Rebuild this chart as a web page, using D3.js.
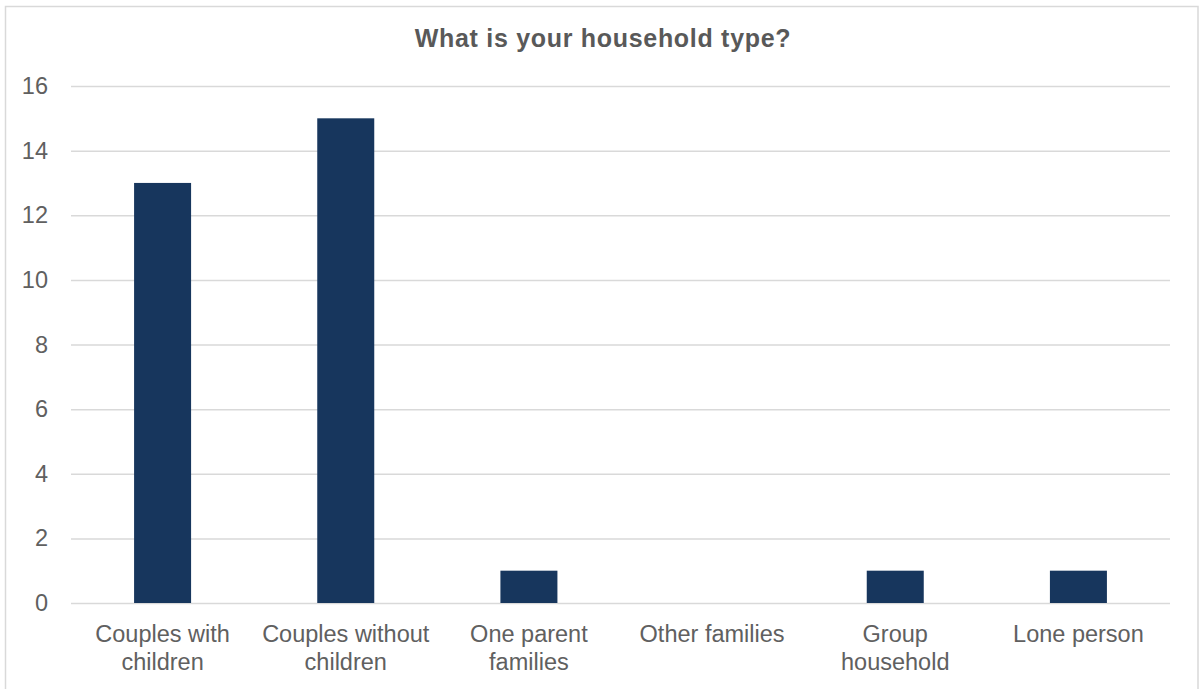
<!DOCTYPE html>
<html>
<head>
<meta charset="utf-8">
<script src="https://cdn.jsdelivr.net/npm/d3@7"></script>
<style>
  html, body { margin: 0; padding: 0; background: #fff; }
  svg text { font-family: "Liberation Sans", Arial, sans-serif; }
</style>
</head>
<body>
<svg id="chart" width="1200" height="689"></svg>
<script>
// Survey responses: household type
const categories = [
  ["Couples with", "children"],
  ["Couples without", "children"],
  ["One parent", "families"],
  ["Other families"],
  ["Group", "household"],
  ["Lone person"]
];
const counts = [13, 15, 1, 0, 1, 1];
const yTicks = [0, 2, 4, 6, 8, 10, 12, 14, 16];
const title = "What is your household type?";

const svg = d3.select("#chart");
const W = 1200, H = 689;
const margin = { left: 71, right: 30, top: 86, bottom: 86 };
const plotW = W - margin.left - margin.right;
const plotH = H - margin.top - margin.bottom;
const textColor = "#606060";

// outer chart frame
svg.append("rect")
  .attr("x", 5.5).attr("y", 6.5)
  .attr("width", 1192.5).attr("height", 700)
  .attr("fill", "#fff")
  .attr("stroke", "#d9d9d9").attr("stroke-width", 1.5);

svg.append("text")
  .attr("x", 603).attr("y", 47)
  .attr("text-anchor", "middle")
  .attr("font-size", 25).attr("font-weight", "bold")
  .attr("letter-spacing", 0.7)
  .attr("fill", "#595959")
  .text(title);

const idx = categories.map((d, i) => i);
const y = d3.scaleLinear().domain([0, 16]).range([plotH, 0]);

const g = svg.append("g").attr("transform", `translate(${margin.left},${margin.top})`);

// gridlines
g.append("g")
  .call(d3.axisLeft(y).tickValues(yTicks).tickSize(-plotW).tickFormat(""))
  .call(a => a.select(".domain").remove())
  .call(a => a.selectAll("line").attr("stroke", "#d9d9d9").attr("stroke-width", 1.5));

// y tick labels
g.append("g")
  .call(d3.axisLeft(y).tickValues(yTicks).tickSize(0).tickPadding(23))
  .call(a => a.select(".domain").remove())
  .call(a => a.selectAll("text")
    .attr("font-size", 23.5).attr("fill", textColor)
    .attr("font-family", "'Liberation Sans', Arial, sans-serif"));

// bars
const band = d3.scaleBand().domain(idx).range([0, plotW]);
const barW = 57;
g.selectAll("rect.bar")
  .data(counts)
  .join("rect")
  .attr("class", "bar")
  .attr("x", (d, i) => band(i) + band.bandwidth() / 2 - barW / 2)
  .attr("y", d => y(d))
  .attr("width", barW)
  .attr("height", d => plotH - y(d))
  .attr("fill", "#17365d");

// x category labels
const xl = g.append("g").attr("transform", `translate(0,${plotH})`);
xl.selectAll("text")
  .data(categories)
  .join("text")
  .attr("x", (d, i) => band(i) + band.bandwidth() / 2)
  .attr("y", 39)
  .attr("text-anchor", "middle")
  .attr("font-size", 23.5).attr("fill", textColor)
  .each(function(lines) {
    const t = d3.select(this);
    lines.forEach((l, k) => {
      t.append("tspan")
        .attr("x", t.attr("x"))
        .attr("dy", k === 0 ? 0 : 28)
        .text(l);
    });
  });
</script>
</body>
</html>
